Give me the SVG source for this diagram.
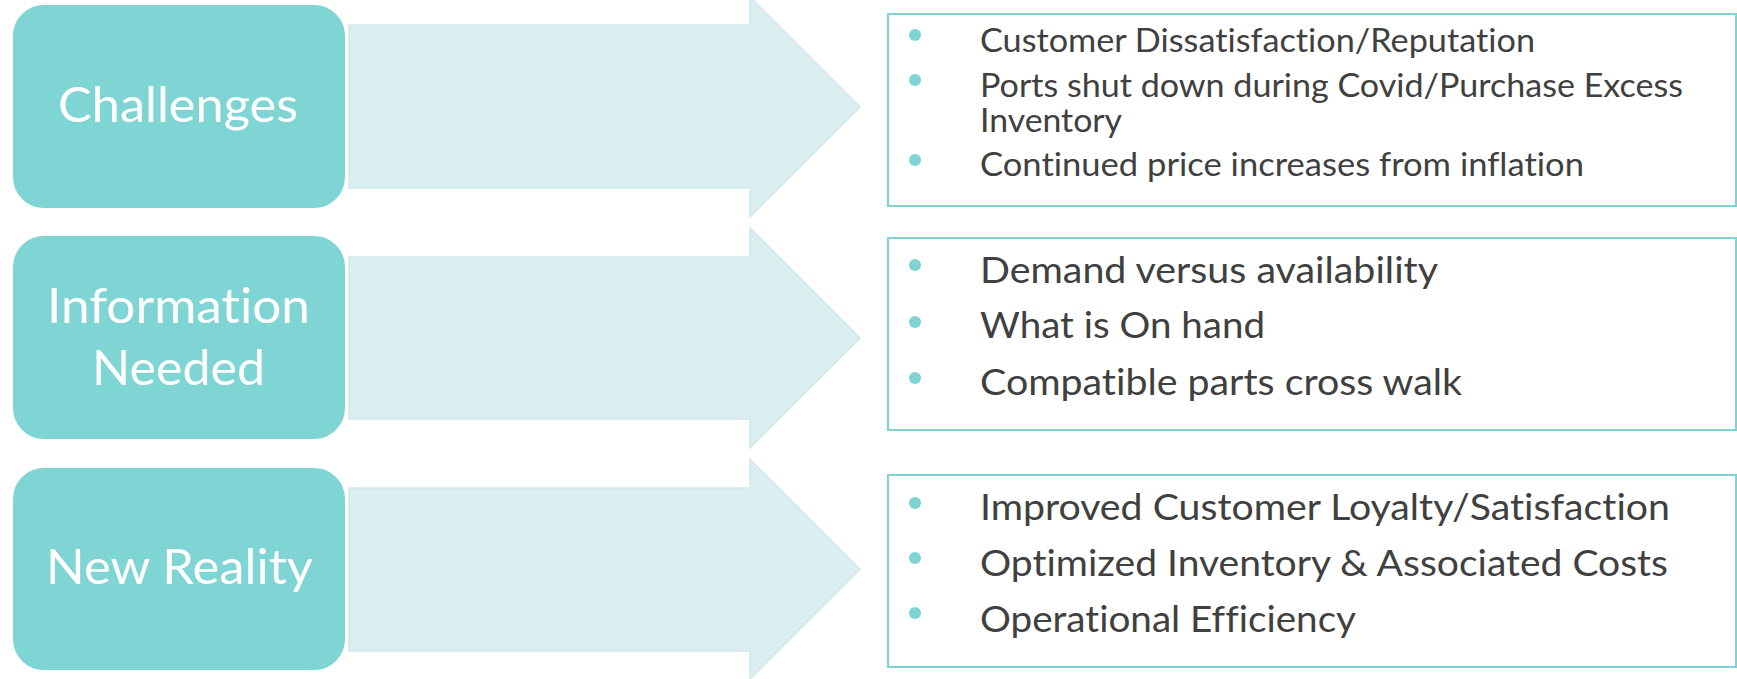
<svg xmlns="http://www.w3.org/2000/svg" width="1737" height="679" viewBox="0 0 1737 679">
<style>
.lbox{fill:#7fd4d4;stroke:#ffffff;stroke-width:2}
.arrow{fill:#daeef0;stroke:#d1e9ea;stroke-width:1.5}
.rbox{fill:#ffffff;stroke:#7fd3d3;stroke-width:2}
.bul{fill:#7fd3d3}
text{font-variant-ligatures:none;font-feature-settings:"liga" 0,"clig" 0}
.lt{font-family:Lato,"Open Sans","Liberation Sans",sans-serif;font-size:49px;fill:#ffffff}
.t1{font-family:Lato,"Open Sans","Liberation Sans",sans-serif;font-size:33px;fill:#404040}
.t2{font-family:Lato,"Open Sans","Liberation Sans",sans-serif;font-size:36px;fill:#404040}
</style>
<rect width="1737" height="679" fill="#ffffff"/>
<g id="connectors">
<path class="arrow" d="M349,25 H750 V-3 L860,107 L750,217 V188 H349 Z"/>
<path class="arrow" d="M349,257 H750 V228 L860,338 L750,448 V419 H349 Z"/>
<path class="arrow" d="M349,488 H750 V459 L860,569 L750,679 V651 H349 Z"/>
</g>
<g id="challenges">
<rect class="lbox" x="12" y="4" width="334" height="205" rx="32"/>
<text class="lt" x="58" y="122" textLength="240" lengthAdjust="spacingAndGlyphs">Challenges</text>
</g>
<g id="information-needed">
<rect class="lbox" x="12" y="235" width="334" height="205" rx="32"/>
<text class="lt" x="47" y="323" textLength="263" lengthAdjust="spacingAndGlyphs">Information</text>
<text class="lt" x="92" y="385" textLength="173" lengthAdjust="spacingAndGlyphs">Needed</text>
</g>
<g id="new-reality">
<rect class="lbox" x="12" y="467" width="334" height="204" rx="32"/>
<text class="lt" x="46" y="584" textLength="267" lengthAdjust="spacingAndGlyphs">New Reality</text>
</g>
<g id="challenges-list">
<rect class="rbox" x="888" y="14" width="848" height="192"/>
<circle class="bul" cx="915" cy="35" r="6"/>
<circle class="bul" cx="915" cy="80" r="6"/>
<circle class="bul" cx="915" cy="160" r="6"/>
<text class="t1" x="980" y="52" textLength="555" lengthAdjust="spacingAndGlyphs">Customer Dissatisfaction/Reputation</text>
<text class="t1" x="980" y="97" textLength="703" lengthAdjust="spacingAndGlyphs">Ports shut down during Covid/Purchase Excess</text>
<text class="t1" x="980" y="132" textLength="142" lengthAdjust="spacingAndGlyphs">Inventory</text>
<text class="t1" x="980" y="176" textLength="604" lengthAdjust="spacingAndGlyphs">Continued price increases from inflation</text>
</g>
<g id="information-list">
<rect class="rbox" x="888" y="238" width="848" height="192"/>
<circle class="bul" cx="915" cy="265" r="6"/>
<circle class="bul" cx="915" cy="322" r="6"/>
<circle class="bul" cx="915" cy="378" r="6"/>
<text class="t2" x="980" y="283" textLength="458" lengthAdjust="spacingAndGlyphs">Demand versus availability</text>
<text class="t2" x="980" y="338" textLength="285" lengthAdjust="spacingAndGlyphs">What is On hand</text>
<text class="t2" x="980" y="395" textLength="482" lengthAdjust="spacingAndGlyphs">Compatible parts cross walk</text>
</g>
<g id="new-reality-list">
<rect class="rbox" x="888" y="475" width="848" height="192"/>
<circle class="bul" cx="915" cy="503" r="6"/>
<circle class="bul" cx="915" cy="558" r="6"/>
<circle class="bul" cx="915" cy="613" r="6"/>
<text class="t2" x="980" y="520" textLength="690" lengthAdjust="spacingAndGlyphs">Improved Customer Loyalty/Satisfaction</text>
<text class="t2" x="980" y="576" textLength="688" lengthAdjust="spacingAndGlyphs">Optimized Inventory &amp; Associated Costs</text>
<text class="t2" x="980" y="632" textLength="376" lengthAdjust="spacingAndGlyphs">Operational Efficiency</text>
</g>
</svg>
